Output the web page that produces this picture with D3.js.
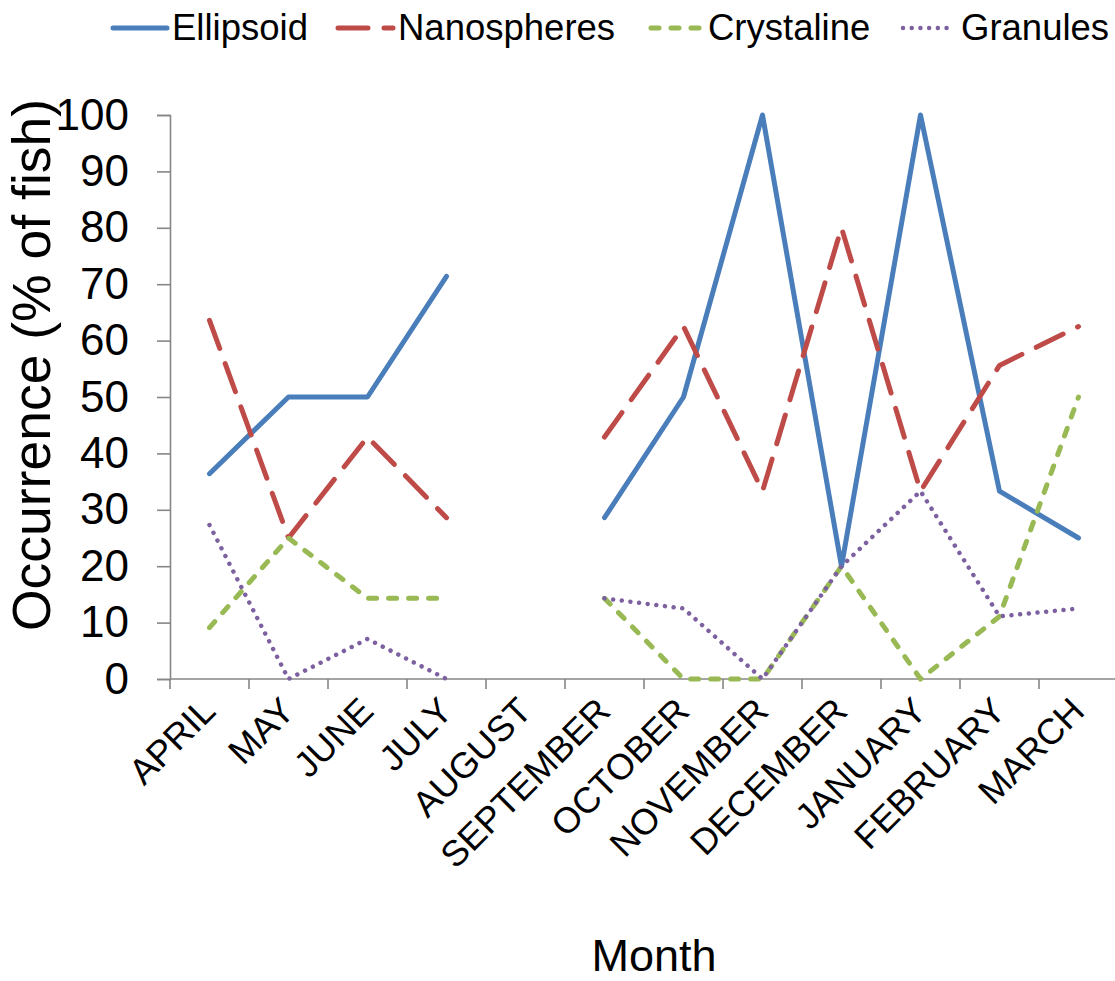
<!DOCTYPE html>
<html>
<head>
<meta charset="utf-8">
<script src="https://cdn.jsdelivr.net/npm/d3@7/dist/d3.min.js"></script>
<style>
  html, body { margin: 0; padding: 0; background: #fff; }
  svg { display: block; font-family: "Liberation Sans", Arial, sans-serif; }
</style>
</head>
<body>
<svg id="chart" width="1115" height="981"></svg>
<script>
// Monthly occurrence of each inclusion type (% of fish); August has no sample
const months = ["APRIL", "MAY", "JUNE", "JULY", "AUGUST", "SEPTEMBER", "OCTOBER",
                "NOVEMBER", "DECEMBER", "JANUARY", "FEBRUARY", "MARCH"];
const ellipsoid   = [36.4, 50, 50, 71.4, null, 28.6, 50, 100, 20, 100, 33.3, 25];
const nanospheres = [63.6, 25, 42.9, 28.6, null, 42.9, 62.5, 33.3, 80, 33.3, 55.6, 62.5];
const crystaline  = [9.1, 25, 14.3, 14.3, null, 14.3, 0, 0, 20, 0, 11.1, 50];
const granules    = [27.3, 0, 7.1, 0, null, 14.3, 12.5, 0, 20, 33.3, 11.1, 12.5];
const yTicks = [0, 10, 20, 30, 40, 50, 60, 70, 80, 90, 100];

const series = [
  { name: "Ellipsoid",   values: ellipsoid,   color: "#4A7EBB", width: 5,   dash: null },
  { name: "Nanospheres", values: nanospheres, color: "#BE4B48", width: 5,   dash: "30,16" },
  { name: "Crystaline",  values: crystaline,  color: "#98B954", width: 5,   dash: "8,12" },
  { name: "Granules",    values: granules,    color: "#7D60A0", width: 4.5, dash: "0.01,8.7" }
];

const svg = d3.select("#chart");
const plotLeft = 170, plotRight = 1118, plotTop = 115, plotBottom = 679;

const x = d3.scaleBand().domain(months).range([plotLeft, plotRight]).paddingInner(0).paddingOuter(0);
const y = d3.scaleLinear().domain([0, 100]).range([plotBottom, plotTop]);

const axisColor = "#868686";

// y axis
const yAxis = svg.append("g")
  .attr("transform", `translate(${plotLeft},0)`)
  .call(d3.axisLeft(y).tickValues(yTicks).tickSize(13).tickPadding(28).tickFormat(d3.format("d")));
yAxis.select(".domain").attr("stroke", axisColor).attr("stroke-width", 1.6);
yAxis.selectAll(".tick line").attr("stroke", axisColor).attr("stroke-width", 1.6);
yAxis.selectAll(".tick text")
  .attr("fill", "#000").attr("font-size", 44)
  .attr("font-family", "Liberation Sans, Arial, sans-serif");

// x axis: ticks sit on category boundaries
const xAxisG = svg.append("g").attr("transform", `translate(0,${plotBottom})`);
xAxisG.append("line")
  .attr("x1", plotLeft).attr("x2", 1115)
  .attr("stroke", axisColor).attr("stroke-width", 1.6);
const boundaries = months.map(m => x(m)).concat([x(months[months.length - 1]) + x.bandwidth()]);
xAxisG.selectAll("line.tick")
  .data(boundaries)
  .join("line")
  .attr("class", "tick")
  .attr("x1", d => d).attr("x2", d => d)
  .attr("y1", 0).attr("y2", 10)
  .attr("stroke", axisColor).attr("stroke-width", 1.6);
xAxisG.selectAll("text")
  .data(months)
  .join("text")
  .attr("transform", d => `translate(${x(d) + x.bandwidth() / 2 + 8},${34}) rotate(-45)`)
  .attr("text-anchor", "end")
  .attr("font-size", 36)
  .attr("fill", "#000")
  .text(d => d);

// lines
const line = d3.line()
  .defined(d => d.v != null)
  .x(d => x(d.m) + x.bandwidth() / 2)
  .y(d => y(d.v));

const plot = svg.append("g");
series.forEach(s => {
  const pts = months.map((m, i) => ({ m, v: s.values[i] }));
  plot.append("path")
    .datum(pts)
    .attr("d", line)
    .attr("fill", "none")
    .attr("stroke", s.color)
    .attr("stroke-width", s.width)
    .attr("stroke-linecap", "round")
    .attr("stroke-linejoin", "round")
    .attr("stroke-dasharray", s.dash);
});

// axis titles
svg.append("text")
  .attr("x", 654).attr("y", 971)
  .attr("text-anchor", "middle")
  .attr("font-size", 45)
  .text("Month");
svg.append("text")
  .attr("transform", "translate(50,365) rotate(-90)")
  .attr("text-anchor", "middle")
  .attr("font-size", 53.5)
  .text("Occurrence (% of fish)");

// legend
const legendItems = [
  { s: series[0], x0: 113, x1: 167, tx: 172 },
  { s: series[1], x0: 338, x1: 393, tx: 398 },
  { s: series[2], x0: 651, x1: 704, tx: 708 },
  { s: series[3], x0: 903, x1: 955, tx: 961 }
];
const legend = svg.append("g");
legendItems.forEach(it => {
  legend.append("line")
    .attr("x1", it.x0).attr("x2", it.x1)
    .attr("y1", 28).attr("y2", 28)
    .attr("stroke", it.s.color)
    .attr("stroke-width", it.s.width)
    .attr("stroke-linecap", "round")
    .attr("stroke-dasharray", it.s.dash);
  legend.append("text")
    .attr("x", it.tx).attr("y", 40)
    .attr("font-size", 36.5)
    .text(it.s.name);
});
</script>
</body>
</html>
